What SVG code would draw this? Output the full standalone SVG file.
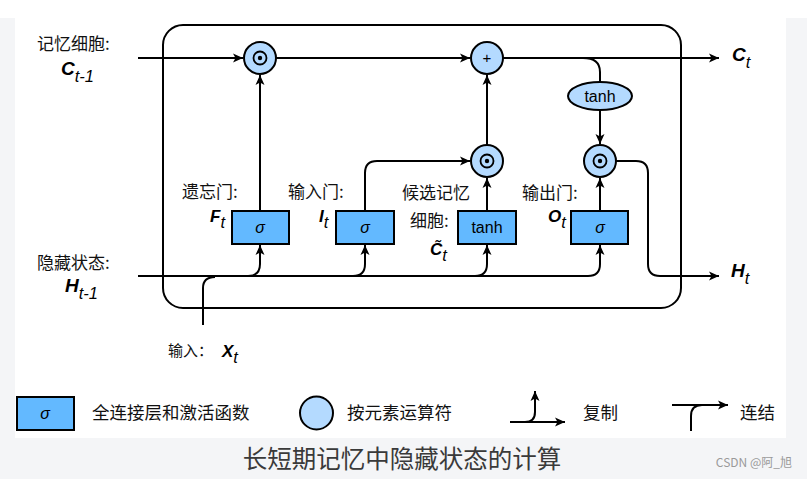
<svg xmlns="http://www.w3.org/2000/svg" width="807" height="479" viewBox="0 0 807 479">
<style>
.ln{fill:none;stroke:#000;stroke-width:2}
.ar{marker-end:url(#ah)}
.box{fill:#63b9ff;stroke:#000;stroke-width:2}
.cir{fill:#b4daff;stroke:#000;stroke-width:2}
.zh{font-family:"Noto Sans CJK SC","Noto Sans",sans-serif;font-size:17px;fill:#111}
.lg{font-size:17.5px}
.m{font-family:"Liberation Sans",Arial,sans-serif;font-style:italic;fill:#000}
.mb{font-weight:bold;font-size:19px}
.mg{font-weight:bold;font-size:17px}
.sub{font-size:16.5px}
.in{font-family:"Liberation Sans",Arial,sans-serif;font-size:16px;fill:#000;text-anchor:middle}
</style>
<defs>
<marker id="ah" markerUnits="userSpaceOnUse" markerWidth="12" markerHeight="10" refX="10" refY="5" orient="auto">
<path d="M0,0.5 L10,5 L0,9.5 L2.5,5 Z" fill="#000"/>
</marker>
<g id="odot"><circle class="cir" r="16"/><circle r="6.5" fill="none" stroke="#000" stroke-width="1.8"/><circle r="2.2" fill="#000"/></g>
</defs>
<rect width="807" height="479" fill="#f4f5f7"/>
<rect x="0" y="0" width="807" height="18" fill="#fff"/>
<rect x="15" y="0" width="771" height="438" fill="#fff"/>

<rect x="163" y="25" width="518" height="283" rx="20" class="ln"/>

<g id="connectors">
<path class="ln ar" d="M138,58 H243"/>
<path class="ln ar" d="M276,58 H470"/>
<path class="ln ar" d="M503,58 H719"/>
<path class="ln" d="M583,58 Q600,58 600,72 V82"/>
<path class="ln ar" d="M600,110 V144"/>
<path class="ln ar" d="M260,211 V75"/>
<path class="ln ar" d="M365,211 V173 Q365,161 377,161 H470"/>
<path class="ln ar" d="M487,211 V178"/>
<path class="ln ar" d="M487,145 V75"/>
<path class="ln ar" d="M600,211 V178"/>
<path class="ln ar" d="M616,161 H636 Q648,161 648,173 V264 Q648,276 660,276 H719"/>
<path class="ln ar" d="M138,276 H588 Q600,276 600,264 V245"/>
<path class="ln ar" d="M248,276 Q260,276 260,264 V245"/>
<path class="ln ar" d="M353,276 Q365,276 365,264 V245"/>
<path class="ln ar" d="M475,276 Q487,276 487,264 V245"/>
<path class="ln" d="M203,325 V288 Q203,277 215,277"/>
</g>

<g id="mul_f"><use href="#odot" x="260" y="58"/></g>
<g id="add"><circle class="cir" cx="487" cy="58" r="16"/><text x="487" y="63" class="in" style="font-size:15px">+</text></g>
<g id="mul_i"><use href="#odot" x="487" y="161"/></g>
<g id="mul_o"><use href="#odot" x="600" y="161"/></g>
<g id="tanh_c"><ellipse class="cir" cx="600" cy="96" rx="32" ry="14"/><text x="600" y="102" class="in">tanh</text></g>

<g id="gate_f"><rect class="box" x="232" y="211" width="57" height="33"/><text x="260" y="233" class="in" style="font-style:italic">σ</text></g>
<g id="gate_i"><rect class="box" x="336" y="211" width="58" height="33"/><text x="365" y="233" class="in" style="font-style:italic">σ</text></g>
<g id="gate_c"><rect class="box" x="458" y="211" width="58" height="33"/><text x="487" y="233" class="in">tanh</text></g>
<g id="gate_o"><rect class="box" x="571" y="211" width="57" height="33"/><text x="600" y="233" class="in" style="font-style:italic">σ</text></g>

<g id="labels">
<text x="37" y="50" class="zh">记忆细胞:</text>
<text x="61" y="75" class="m"><tspan class="mb">C</tspan><tspan class="sub" dy="7">t-1</tspan></text>
<text x="37" y="269" class="zh">隐藏状态:</text>
<text x="65" y="292" class="m"><tspan class="mb">H</tspan><tspan class="sub" dy="7">t-1</tspan></text>
<text x="732" y="61" class="m"><tspan class="mb">C</tspan><tspan class="sub" dy="7">t</tspan></text>
<text x="731" y="277" class="m"><tspan class="mb">H</tspan><tspan class="sub" dy="7">t</tspan></text>
<text x="182" y="198" class="zh">遗忘门:</text>
<text x="210" y="222" class="m"><tspan class="mg">F</tspan><tspan class="sub" dy="6">t</tspan></text>
<text x="288" y="198" class="zh">输入门:</text>
<text x="319" y="222" class="m"><tspan class="mg">I</tspan><tspan class="sub" dy="6">t</tspan></text>
<text x="402" y="199" class="zh">候选记忆</text>
<text x="410" y="227" class="zh">细胞:</text>
<text x="430" y="255" class="m"><tspan class="mg">C&#x303;</tspan><tspan class="sub" dy="6">t</tspan></text>
<text x="522" y="199" class="zh">输出门:</text>
<text x="548" y="222" class="m"><tspan class="mg">O</tspan><tspan class="sub" dy="6">t</tspan></text>
<text x="168" y="356" class="zh" style="font-size:15px">输入：</text>
<text x="222" y="357" class="m"><tspan class="mg">X</tspan><tspan class="sub" dy="6">t</tspan></text>
</g>

<g id="legend">
<rect class="box" x="17" y="397" width="57" height="33"/>
<text x="45" y="419" class="in" style="font-style:italic">σ</text>
<text x="92" y="419" class="zh lg">全连接层和激活函数</text>
<circle class="cir" cx="316.5" cy="413" r="16.5"/>
<text x="347" y="419" class="zh lg">按元素运算符</text>
<path class="ln ar" d="M510,422 H565"/>
<path class="ln ar" d="M525,422 Q535,422 535,412 V391"/>
<text x="583" y="419" class="zh lg">复制</text>
<path class="ln ar" d="M672,405 H728"/>
<path class="ln" d="M691,431 V416 Q691,405 702,405"/>
<text x="740" y="419" class="zh lg">连结</text>
</g>

<text x="402" y="468" text-anchor="middle" style="font-family:'Noto Sans CJK SC',sans-serif;font-size:24.5px;fill:#3a3a3a">长短期记忆中隐藏状态的计算</text>
<text x="792" y="467" text-anchor="end" style="font-family:'Noto Sans CJK SC',sans-serif;font-size:12px;fill:#9a9a9a">CSDN @阿_旭</text>
</svg>
